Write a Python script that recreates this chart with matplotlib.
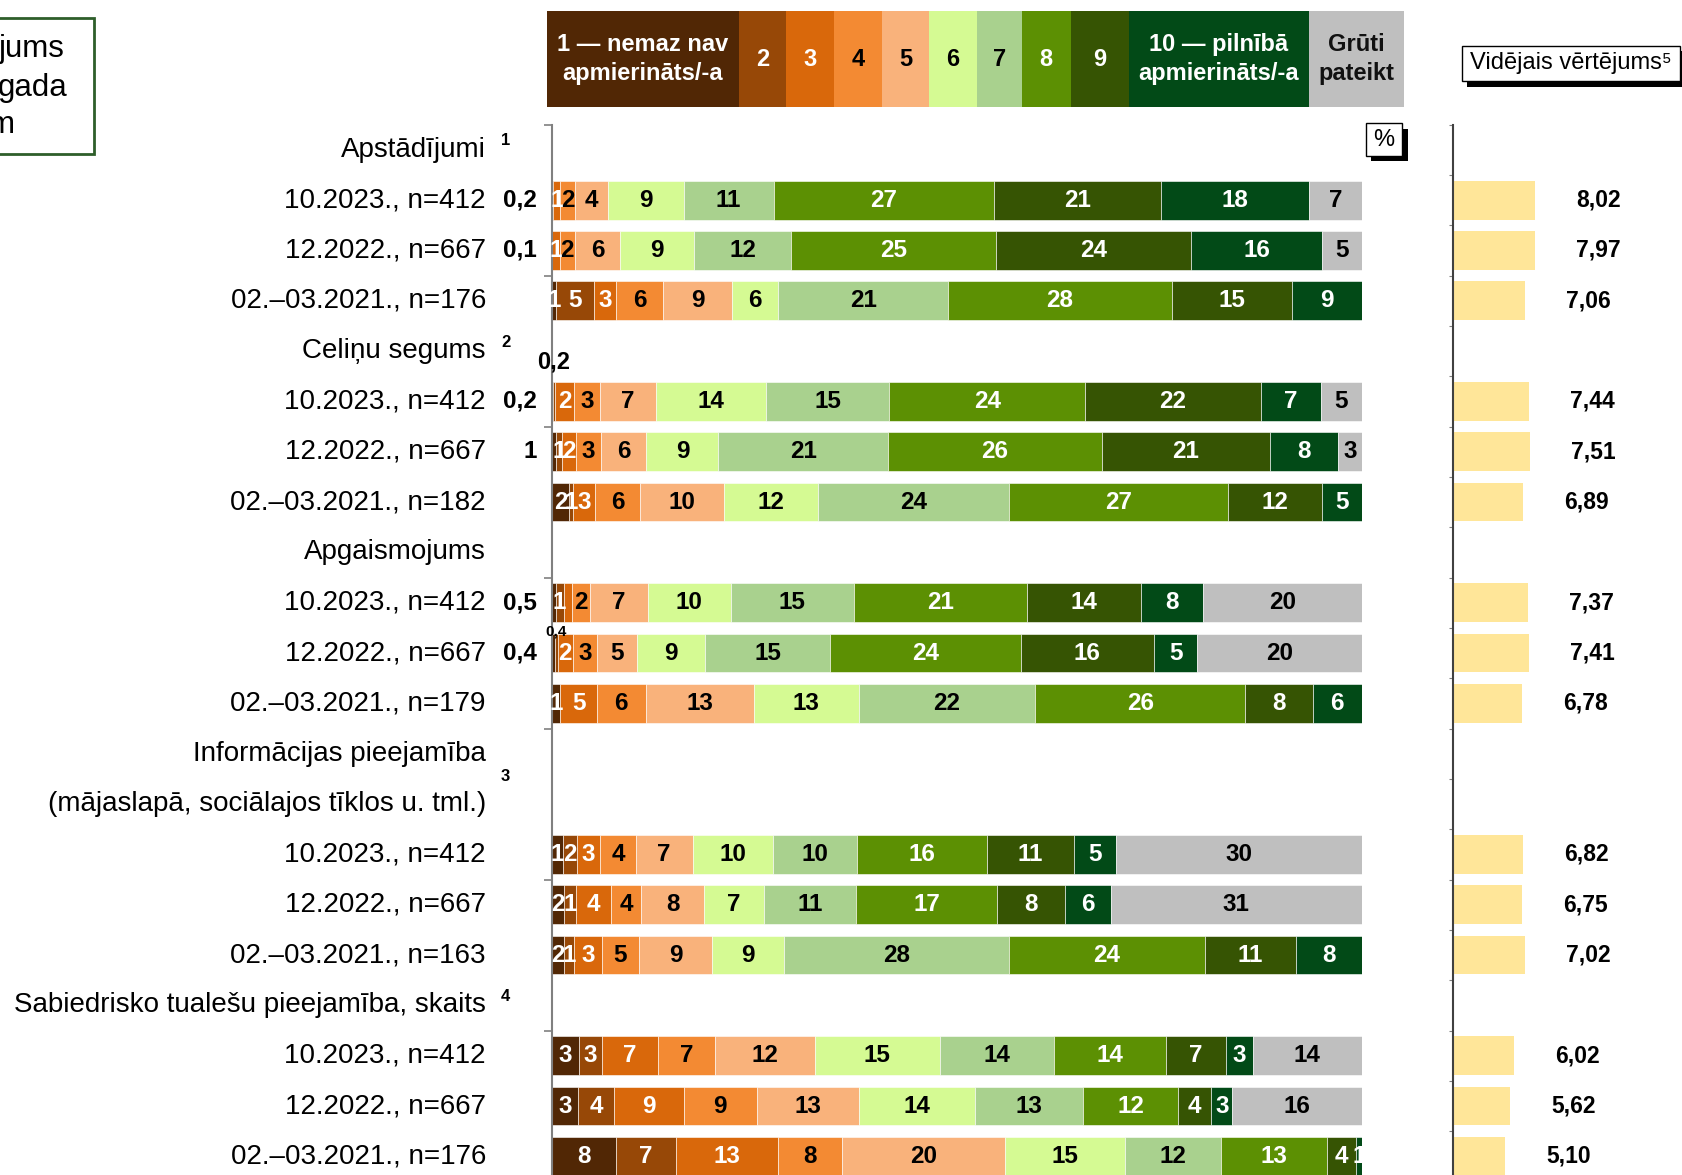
import matplotlib
matplotlib.use("Agg")
import matplotlib.pyplot as plt
from matplotlib.patches import Rectangle
import numpy as np

plt.rcParams['font.family'] = ['Liberation Sans', 'DejaVu Sans']

W, H = 1682, 1175

# ---------------- data ----------------
scale_labels = ["1 — nemaz nav\napmierināts/-a", "2", "3", "4", "5", "6", "7", "8", "9",
                "10 — pilnībā\napmierināts/-a", "Grūti\npateikt"]
group_titles = [["Apstādījumi"], ["Celiņu segums"], ["Apgaismojums"],
                ["Informācijas pieejamība", "(mājaslapā, sociālajos tīklos u. tml.)"],
                ["Sabiedrisko tualešu pieejamība, skaits"]]
group_notes = ["1", "2", "", "3", "4"]
periods = ["10.2023.", "12.2022.", "02.–03.2021."]
sample_sizes = [[412, 667, 176], [412, 667, 182], [412, 667, 179], [412, 667, 163], [412, 667, 176]]

# shares (%) for ratings 1..10 and "Grūti pateikt"
apstadijumi = [[0.2, 0, 0.9, 1.8, 4.1, 9.3, 11.1, 27.2, 20.6, 18.2, 6.6],
               [0.1, 0, 0.9, 1.9, 5.6, 9.1, 12.0, 25.3, 24.0, 16.2, 4.9],
               [0.6, 4.6, 2.8, 5.7, 8.6, 5.7, 20.9, 27.7, 14.8, 8.6, 0]]
celinu_segums = [[0.2, 0.2, 2.4, 3.2, 6.9, 13.6, 15.2, 24.1, 21.7, 7.4, 5.1],
                 [0.6, 0.7, 1.7, 3.1, 5.6, 8.9, 20.9, 26.4, 20.7, 8.4, 3.0],
                 [2.2, 0.5, 2.7, 5.5, 10.4, 11.6, 23.6, 27.0, 11.6, 4.9, 0]]
apgaismojums = [[0.5, 1.0, 1.0, 2.2, 7.2, 10.2, 15.2, 21.4, 14.0, 7.7, 19.6],
                [0.4, 0.4, 1.8, 3.0, 4.9, 8.5, 15.4, 23.5, 16.4, 5.4, 20.3],
                [1.1, 0, 4.5, 6.0, 13.4, 12.9, 21.8, 25.9, 8.3, 6.1, 0]]
informacija = [[1.4, 1.7, 2.9, 4.4, 7.0, 9.9, 10.4, 16.0, 10.8, 5.1, 30.4],
               [1.6, 1.4, 4.4, 3.7, 7.7, 7.4, 11.4, 17.4, 8.3, 5.7, 31.0],
               [1.6, 1.2, 3.4, 4.6, 9.0, 8.9, 27.8, 24.1, 11.2, 8.2, 0]]
tualetes = [[3.4, 2.8, 7.0, 7.0, 12.3, 15.4, 14.1, 13.8, 7.4, 3.3, 13.5],
            [3.3, 4.4, 8.6, 9.0, 12.7, 14.2, 13.4, 11.7, 4.1, 2.6, 16.0],
            [7.9, 7.4, 12.6, 8.0, 20.0, 14.8, 11.9, 13.1, 3.6, 0.7, 0]]
shares = [apstadijumi, celinu_segums, apgaismojums, informacija, tualetes]

mean_scores = [[8.02, 7.97, 7.06], [7.44, 7.51, 6.89], [7.37, 7.41, 6.78],
               [6.82, 6.75, 7.02], [6.02, 5.62, 5.10]]

# ---------------- style ----------------
colors = ["#512705", "#974807", "#D9680B", "#F38A33", "#F9B27B", "#D5FA93",
          "#A9D18E", "#5C9003", "#365403", "#024A17", "#BFBFBF"]
text_colors = ["white", "white", "white", "black", "black", "black", "black",
               "white", "white", "white", "black"]
legend_widths = [192, 47, 47.5, 48.5, 47, 48, 45, 48.5, 58, 180.2, 95.3]
outside_first = {0, 1, 3, 4, 6, 7}          # data-row indices with 1st label left of axis
hidden_labels = {(6, 2)}
above_labels = {(3, 1): (17, -0.79), (7, 1): (11, -0.42)}
BAR_H = 0.77
LBL_FS = 17.5
ROW_FS = 20

fig = plt.figure(figsize=(W / 100, H / 100), dpi=100)

# main axes geometry (pixels)
ax_left, ax_right = 551.5, 1362.0
row0_y, row_step = 149.8, 50.33
top_px = row0_y - row_step / 2
bot_px = row0_y + row_step * 20.5
ax = fig.add_axes([ax_left / W, 1 - bot_px / H, (ax_right - ax_left) / W, (bot_px - top_px) / H])
ax.set_xlim(0, 100)
ax.set_ylim(20.5, -0.5)
for s in ["top", "right", "bottom"]:
    ax.spines[s].set_visible(False)
ax.spines["left"].set_color("#808080")
ax.spines["left"].set_linewidth(1.5)
ax.set_xticks([])
ax.set_yticks(np.arange(-0.5, 21, 3))
ax.set_yticklabels([])
ax.tick_params(axis="y", direction="out", length=6, color="#808080", width=1.2)
ax.patch.set_alpha(0)

px_per_unit = (ax_right - ax_left) / 100.0
x_rowlabel = (486 - ax_left) / px_per_unit
x_outside = (537 - ax_left) / px_per_unit
x_note = (501 - ax_left) / px_per_unit

# mean-score axes
m_left = 1452.5
m_ppu = 10.29
axm = fig.add_axes([m_left / W, 1 - bot_px / H, (W - m_left) / W, (bot_px - top_px) / H])
axm.set_xlim(0, (W - m_left) / m_ppu)
axm.set_ylim(20.5, -0.5)
for s in ["top", "right", "bottom"]:
    axm.spines[s].set_visible(False)
axm.spines["left"].set_color("#404040")
axm.spines["left"].set_linewidth(1.5)
axm.set_xticks([])
axm.set_yticks(np.arange(-0.5, 21, 1))
axm.set_yticklabels([])
axm.tick_params(axis="y", direction="out", length=3, color="#808080", width=0.8)
axm.patch.set_alpha(0)

row = 0
drow = 0
for g, titles in enumerate(group_titles):
    for li, t in enumerate(titles):
        ax.text(x_rowlabel, row + li, t, ha="right", va="center", fontsize=ROW_FS, clip_on=False)
    if group_notes[g]:
        ny = row + (len(titles) - 1) / 2 - (0.18 if len(titles) == 1 else 0.05)
        ax.text(x_note, ny, group_notes[g], ha="left", va="center", fontsize=12,
                fontweight="bold", clip_on=False)
    row += len(titles)
    for p in range(3):
        vals = shares[g][p]
        ax.text(x_rowlabel, row, f"{periods[p]}, n={sample_sizes[g][p]}", ha="right",
                va="center", fontsize=ROW_FS, clip_on=False)
        cum = 0.0
        for k, v in enumerate(vals):
            if v > 0:
                ax.barh(row, v, left=cum, height=BAR_H, color=colors[k],
                        edgecolor="white", linewidth=0.4)
            rv = int(np.floor(v + 0.5 + 1e-9))
            if k == 0 and drow in outside_first:
                if v > 0:
                    txt = f"{v:.1f}".replace(".", ",") if v < 0.55 else str(rv)
                    ax.text(x_outside, row, txt, ha="right", va="center", fontsize=LBL_FS,
                            fontweight="bold", clip_on=False)
            elif (drow, k) in above_labels and v > 0:
                fs, dy = above_labels[(drow, k)]
                ax.text(cum + v / 2, row + dy, f"{v:.1f}".replace(".", ","), ha="center",
                        va="center", fontsize=fs, fontweight="bold", clip_on=False)
            elif rv >= 1 and (drow, k) not in hidden_labels:
                ax.text(cum + v / 2, row, str(rv), ha="center", va="center", fontsize=LBL_FS,
                        fontweight="bold", color=text_colors[k], clip_on=False)
            cum += v
        m = mean_scores[g][p]
        axm.barh(row, m, left=0, height=BAR_H, color="#FFE699", edgecolor="none")
        axm.text(m + 4.0, row, f"{m:.2f}".replace(".", ","), ha="left", va="center",
                 fontsize=16.5, fontweight="bold", clip_on=False)
        row += 1
        drow += 1

# ---------------- legend strip ----------------
lg_left, lg_top, lg_bot = 547.0, 10.7, 107.3
axl = fig.add_axes([lg_left / W, 1 - lg_bot / H, sum(legend_widths) / W, (lg_bot - lg_top) / H])
axl.set_xlim(0, sum(legend_widths))
axl.set_ylim(0, 1)
axl.axis("off")
cum = 0.0
for k, w in enumerate(legend_widths):
    axl.barh(0.5, w, left=cum, height=1.0, color=colors[k], edgecolor="none")
    axl.text(cum + w / 2, 0.5, scale_labels[k], ha="center", va="center", fontsize=17,
             fontweight="bold", color=text_colors[k] if k < 10 else "#111111",
             linespacing=1.3)
    cum += w

# ---------------- boxes ----------------
def fig_rect(x0, y0, x1, y1, **kw):
    r = Rectangle((x0 / W, 1 - y1 / H), (x1 - x0) / W, (y1 - y0) / H,
                  transform=fig.transFigure, **kw)
    fig.add_artist(r)

# "%" box with shadow
fig_rect(1370.5, 128.5, 1408, 161, facecolor="black", edgecolor="none")
fig_rect(1365.5, 123, 1402, 155.5, facecolor="white", edgecolor="black", linewidth=1)
fig.text((1365.5 + 1402) / 2 / W, 1 - 139.5 / H, "%", ha="center", va="center", fontsize=17)

# mean-score header box with shadow
fig_rect(1467, 51.5, 1690, 86.5, facecolor="black", edgecolor="none")
fig_rect(1461.5, 45.8, 1680, 80.8, facecolor="white", edgecolor="black", linewidth=1)
fig.text((1461.5 + 1680) / 2 / W, 1 - 63.5 / H, "Vidējais vērtējums⁵", ha="center",
         va="center", fontsize=17)

# cropped box on the left
fig_rect(-20, 18.5, 94.4, 153.5, facecolor="none", edgecolor="#2E5E2A", linewidth=2)
fig.text(-1 / W, 1 - 49 / H, "jums", ha="left", va="center", fontsize=22.5)
fig.text(-2 / W, 1 - 88 / H, "gada", ha="left", va="center", fontsize=22.5)
fig.text(-11 / W, 1 - 125 / H, "m", ha="left", va="center", fontsize=22.5)

fig.savefig("out.png", dpi=100)
